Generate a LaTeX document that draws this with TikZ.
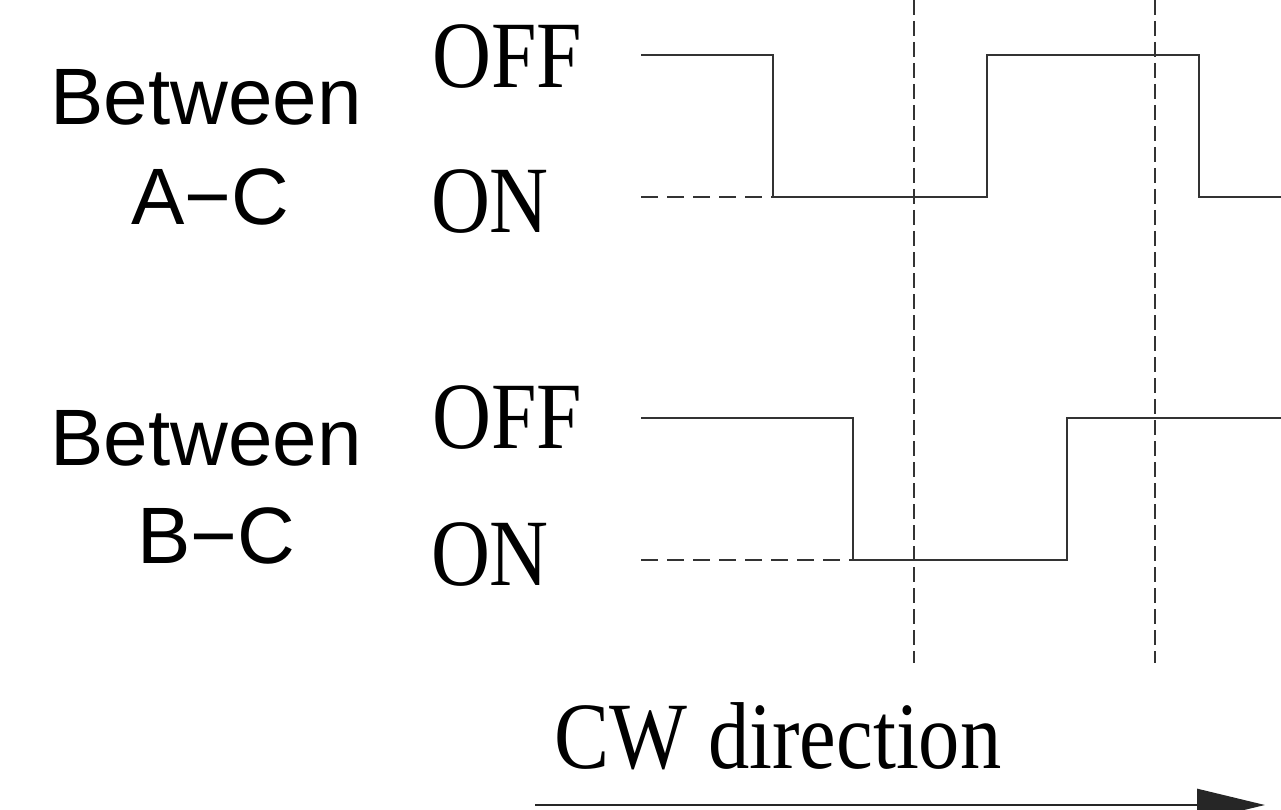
\documentclass[tikz,border=0pt]{standalone}
\usepackage{fontspec}
\setmainfont{Liberation Serif}
\newfontfamily\labelsans{Liberation Sans}
\usetikzlibrary{arrows.meta}
\tikzset{
  wave/.style={line width=2.8pt, draw=black!80, line join=miter},
  wavedash/.style={line width=2.8pt, draw=black!80, dash pattern=on 17pt off 9pt},
  marker/.style={line width=2.6pt, draw=black!80, dash pattern=on 15pt off 6pt},
  sanslabel/.style={inner sep=0pt, outer sep=0pt, anchor=base, font=\labelsans\fontsize{80}{96}\selectfont},
  seriflabel/.style={inner sep=0pt, outer sep=0pt, anchor=base, xscale=0.86, font=\fontsize{95}{110}\selectfont},
}
\begin{document}
\begin{tikzpicture}[x=1pt, y=-1pt]
\useasboundingbox (0,0) rectangle (1281,810);
% labels
\node[sanslabel] (b1) at (206,125) {Between};
\node[sanslabel] (ac) at (210,225) {A−C};
\node[sanslabel] (b2) at (206,465) {Between};
\node[sanslabel] (bc) at (216,563) {B−C};
\node[seriflabel] (off1) at (507,88) {OFF};
\node[seriflabel] (on1) at (490,233) {ON};
\node[seriflabel] (off2) at (507,448) {OFF};
\node[seriflabel] (on2) at (490,585) {ON};
\node[seriflabel, xscale=1.01] (cw) at (778,768) {CW direction};
% coordinates
\coordinate (m1t) at (914,0);
\coordinate (m1b) at (914,663);
\coordinate (m2t) at (1155,0);
\coordinate (m2b) at (1155,663);
% marker lines
\draw[marker] (m1t) -- (m1b);
\draw[marker] (m2t) -- (m2b);
% top waveform (A-C)
\draw[wave] (641,55) -- (773,55) -- (773,197) -- (987,197) -- (987,55) -- (1199,55) -- (1199,197) -- (1281,197);
\draw[wavedash] (641,197) -- (773,197);
% bottom waveform (B-C)
\draw[wave] (641,418) -- (853,418) -- (853,560) -- (1067,560) -- (1067,418) -- (1281,418);
\draw[wavedash] (641,560) -- (853,560);
% direction arrow
\coordinate (as) at (535,805);
\coordinate (ae) at (1265,805);
\draw[line width=2.8pt, draw=black!85, -{Triangle[length=68pt,width=32pt]}] (as) -- (ae);
\end{tikzpicture}
\end{document}
